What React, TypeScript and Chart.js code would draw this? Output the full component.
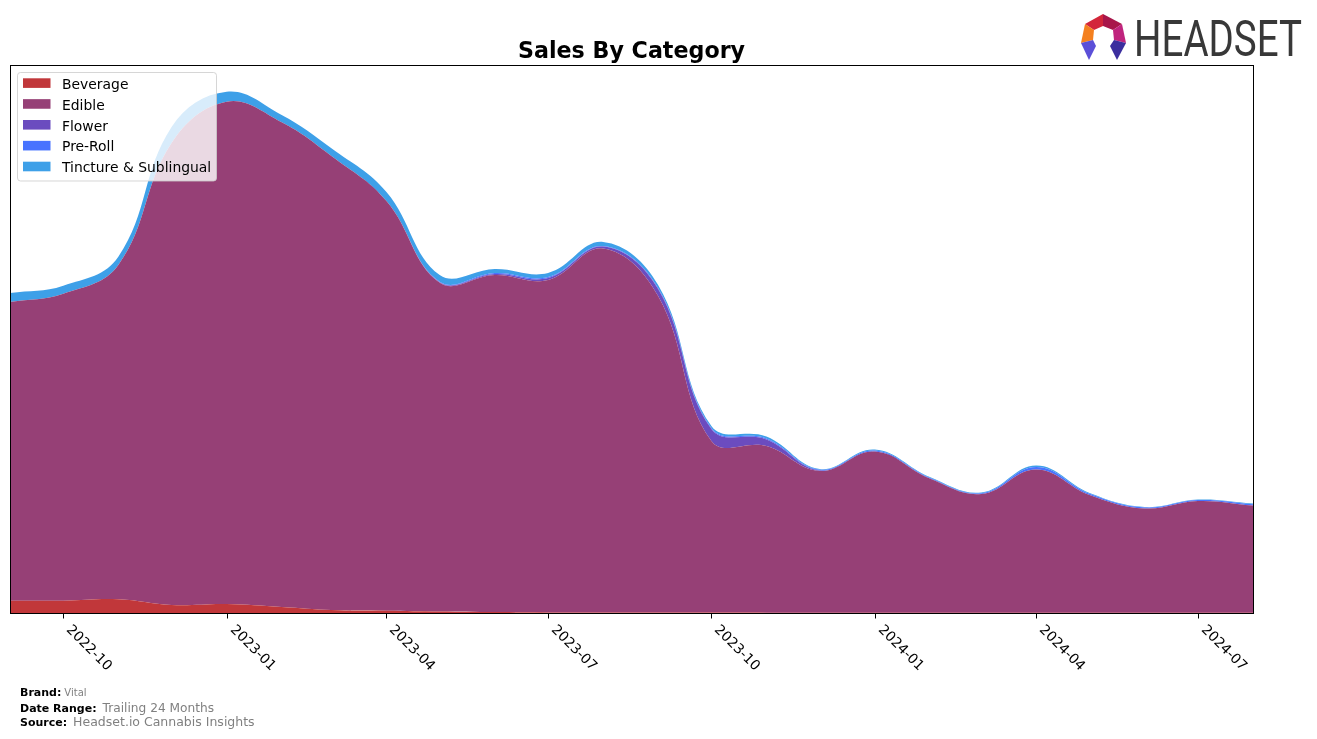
import React, { useEffect, useRef } from "react";
import { Chart, registerables } from "chart.js";

Chart.register(...registerables);

// Monthly data (trailing 24 months)
const months = [
  "2022-09-01", "2022-10-01", "2022-11-01", "2022-12-01",
  "2023-01-01", "2023-02-01", "2023-03-01", "2023-04-01",
  "2023-05-01", "2023-06-01", "2023-07-01", "2023-08-01",
  "2023-09-01", "2023-10-01", "2023-11-01", "2023-12-01",
  "2024-01-01", "2024-02-01", "2024-03-01", "2024-04-01",
  "2024-05-01", "2024-06-01", "2024-07-01", "2024-08-01",
];

const beverage = [12.3, 12.3, 13.7, 8, 9, 6, 3, 2.3, 1.5, 1, 0.6, 0.5, 0.4, 0.4, 0.3, 0.3, 0.3, 0.3, 0.3, 0.3, 0.3, 0.3, 0.3, 0.3];
const edible = [298.7, 307, 334.3, 462, 502.3, 484.7, 454, 409.7, 328.8, 337, 332.4, 364, 316.6, 171.6, 166.7, 141.7, 161.2, 134.2, 118.7, 143.2, 117.7, 104.2, 111.7, 107.2];
const flower = [0, 0, 0, 0, 0, 0, 0, 0, 0.5, 1, 2, 2, 7, 12, 6.5, 0.5, 0, 0, 0, 0, 0, 0, 0, 0];
const preRoll = [0, 0, 0, 0, 0, 0, 0, 0, 0.5, 1, 1, 0.5, 1, 1, 1, 0.8, 1, 0.8, 0.8, 2.5, 1.2, 1, 1, 1.2];
const tincture = [9, 8, 8.3, 16, 10, 7.3, 7.7, 9, 6.7, 4, 4, 4, 3, 2, 2, 0.7, 1, 0.7, 0.7, 1.5, 0.8, 0.5, 0.5, 0.8];

const seriesNames = ["Beverage", "Edible", "Flower", "Pre-Roll", "Tincture & Sublingual"];
const seriesColors = ["#c1373a", "#964076", "#6b4cbf", "#4873ff", "#3ea0e8"];
const seriesValues = [beverage, edible, flower, preRoll, tincture];

const tickLabels = ["2022-10", "2023-01", "2023-04", "2023-07", "2023-10", "2024-01", "2024-04", "2024-07"];

const titleText = "Sales By Category";
const footerRows = [
  ["Brand:", "Vital"],
  ["Date Range:", "Trailing 24 Months"],
  ["Source:", "Headset.io Cannabis Insights"],
];

const FONT = "'DejaVu Sans', 'Noto Sans', sans-serif";

function drawLogo(ctx: CanvasRenderingContext2D) {
  const poly = (pts: number[][], color: string) => {
    ctx.beginPath();
    ctx.moveTo(pts[0][0], pts[0][1]);
    for (let i = 1; i < pts.length; i++) ctx.lineTo(pts[i][0], pts[i][1]);
    ctx.closePath();
    ctx.fillStyle = color;
    ctx.fill();
  };
  const Pt = [1103, 14], Ptl = [1085, 24], Pl = [1081, 43], Ptr = [1122, 24], Pr = [1126, 43];
  const It = [1103, 26], Itl = [1094, 30], Il = [1093, 40], Itr = [1113, 30], Ir = [1114, 40];
  poly([Ptl, Pt, It, Itl], "#d3263a");
  poly([Pt, Ptr, Itr, It], "#a8164a");
  poly([Ptr, Pr, Ir, Itr], "#c0247e");
  poly([Ptl, Itl, Il, Pl], "#f4801f");
  poly([Pl, Il, [1096, 46], [1089, 60]], "#5b4fd8");
  poly([Pr, Ir, [1110, 46], [1117, 60]], "#3b2e9e");

  ctx.save();
  ctx.font = "400 50px Roboto, 'DejaVu Sans', sans-serif";
  ctx.fillStyle = "#383838";
  ctx.textAlign = "left";
  ctx.textBaseline = "alphabetic";
  const w = ctx.measureText("HEADSET").width;
  const sx = 168 / w;
  ctx.translate(1134, 56);
  ctx.scale(sx, 1);
  ctx.fillText("HEADSET", 0, 0);
  ctx.restore();
}

const overlayPlugin = {
  id: "overlay",
  afterDraw(chart: any) {
    const ctx: CanvasRenderingContext2D = chart.ctx;
    const { left, right, top, bottom } = chart.chartArea;
    const xs = chart.scales.x;
    ctx.save();

    // frame
    ctx.strokeStyle = "#000";
    ctx.lineWidth = 1;
    ctx.strokeRect(left + 0.5, top + 0.5, right - left, bottom - top);

    // ticks + rotated labels
    ctx.font = `13.9px ${FONT}`;
    ctx.fillStyle = "#000";
    for (const lab of tickLabels) {
      const v = Date.parse(lab + "-01T00:00:00Z");
      const px = Math.round(xs.getPixelForValue(v)) + 0.5;
      ctx.beginPath();
      ctx.moveTo(px, bottom + 0.5);
      ctx.lineTo(px, bottom + 5.5);
      ctx.stroke();
      ctx.save();
      ctx.translate(px + 2.3, bottom + 17.2);
      ctx.rotate(Math.PI / 4);
      ctx.textAlign = "left";
      ctx.textBaseline = "alphabetic";
      ctx.fillText(lab, 0, 0);
      ctx.restore();
    }

    // legend
    ctx.beginPath();
    (ctx as any).roundRect(17.5, 72.5, 199, 108.5, 3);
    ctx.fillStyle = "rgba(255,255,255,0.8)";
    ctx.fill();
    ctx.strokeStyle = "rgba(204,204,204,0.8)";
    ctx.stroke();
    ctx.font = `13.9px ${FONT}`;
    ctx.textAlign = "left";
    ctx.textBaseline = "alphabetic";
    for (let i = 0; i < seriesNames.length; i++) {
      const yTop = 78.3 + i * 20.85;
      ctx.fillStyle = seriesColors[i];
      ctx.fillRect(23, yTop, 27.5, 9.6);
      ctx.fillStyle = "#000";
      ctx.fillText(seriesNames[i], 62, yTop + 10.6);
    }

    // title
    ctx.font = `bold 22.2px ${FONT}`;
    ctx.textAlign = "center";
    ctx.fillStyle = "#000";
    ctx.fillText(titleText, (left + right) / 2, 57.5);

    // footer
    const baselines = [696, 711.5, 726];
    const valueFonts = [`10px ${FONT}`, `12.2px ${FONT}`, `12.5px ${FONT}`];
    ctx.textAlign = "left";
    footerRows.forEach(([k, val], i) => {
      ctx.font = `bold 11px ${FONT}`;
      ctx.fillStyle = "#000";
      const x0 = 20;
      ctx.fillText(k, x0, baselines[i]);
      const w = ctx.measureText(k).width;
      ctx.font = valueFonts[i];
      ctx.fillStyle = "#808080";
      ctx.fillText(val, x0 + w + (i === 0 ? 3 : 6), baselines[i]);
    });

    drawLogo(ctx);
    ctx.restore();
  },
};

export default function App() {
  const ref = useRef<HTMLCanvasElement | null>(null);

  useEffect(() => {
    if (!ref.current) return;
    const xVals = months.map((m) => Date.parse(m + "T00:00:00Z"));
    const datasets = seriesNames.map((name, si) => ({
      label: name,
      data: seriesValues[si].map((v, i) => ({ x: xVals[i], y: v })),
      backgroundColor: seriesColors[si],
      borderColor: "rgba(0,0,0,0)",
      borderWidth: 0,
      pointRadius: 0,
      pointHoverRadius: 0,
      tension: 0.4,
      fill: si === 0 ? "origin" : "-1",
    }));
    const chart = new Chart(ref.current, {
      type: "line",
      data: { datasets },
      options: {
        responsive: false,
        devicePixelRatio: 1,
        animation: false,
        events: [],
        layout: { padding: { left: 10, top: 65, right: 64, bottom: 126 } },
        scales: {
          x: { type: "linear", display: false, min: xVals[0], max: xVals[xVals.length - 1] },
          y: { display: false, stacked: true, min: 0, max: 548 },
        },
        plugins: {
          legend: { display: false },
          title: { display: false },
          tooltip: { enabled: false },
        },
      } as any,
      plugins: [overlayPlugin],
    });
    return () => chart.destroy();
  }, []);

  return (
    <div style={{ position: "absolute", left: 0, top: 0, width: 1317, height: 739, background: "#fff" }}>
      <canvas ref={ref} width={1317} height={739} style={{ display: "block", width: 1317, height: 739 }} />
    </div>
  );
}
